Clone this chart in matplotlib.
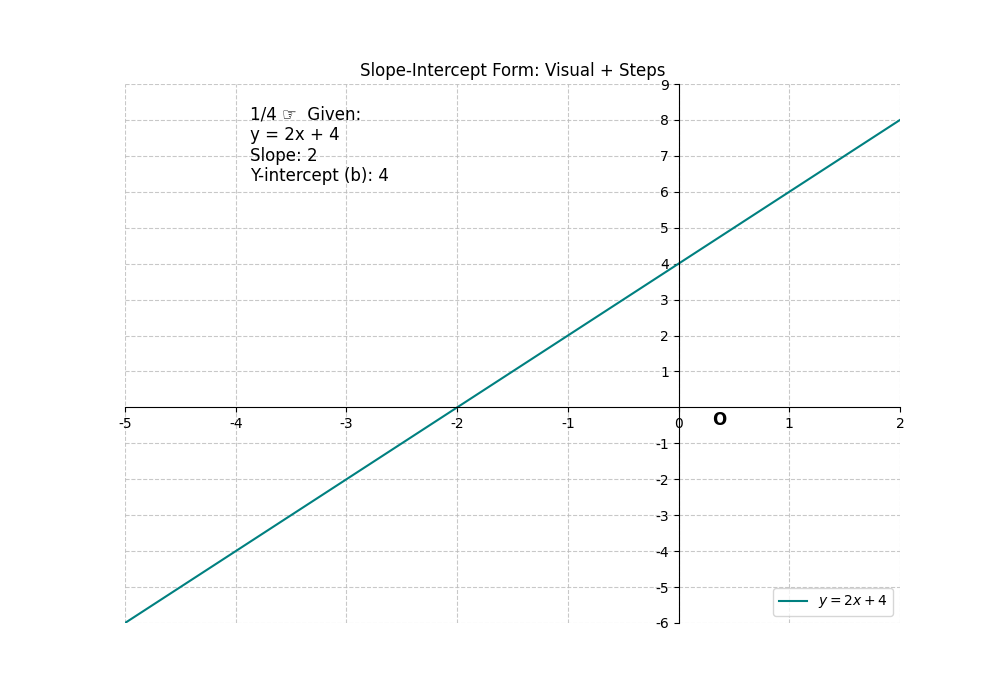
import numpy as np
import matplotlib
matplotlib.use("Agg")
from matplotlib import pyplot as plt

plt.rcParams['axes.unicode_minus'] = False

# line y = m x + b
slope = 2
intercept = 4
x_range = [-5, 2]
y_range = [-6, 9]
x_ticks = [-5, -4, -3, -2, -1, 0, 1, 2]
y_ticks = [-6, -5, -4, -3, -2, -1, 1, 2, 3, 4, 5, 6, 7, 8, 9]
info_text = "1/4 \u261e  Given:\ny = 2x + 4\nSlope: 2\nY-intercept (b): 4"

fig, ax = plt.subplots(figsize=(10, 7), dpi=100)

x = np.linspace(x_range[0], x_range[1], 200)
ax.plot(x, slope * x + intercept, color="teal", linewidth=1.5, label=r"$y = 2x + 4$")

ax.set_xlim(x_range)
ax.set_ylim(y_range)
ax.spines['left'].set_position('zero')
ax.spines['bottom'].set_position('zero')
ax.spines['right'].set_visible(False)
ax.spines['top'].set_visible(False)
ax.set_xticks(x_ticks)
ax.set_yticks(y_ticks)
ax.grid(True, linestyle="--", color="#bbbbbb", alpha=0.8)

ax.text(0.3, -0.5, "O", fontsize=12, fontweight="bold")
ax.text(0.161, 0.961, info_text, transform=ax.transAxes, fontsize=12, va="top", ha="left")

ax.set_title("Slope-Intercept Form: Visual + Steps")
ax.legend(loc="lower right")

fig.savefig("out.png", dpi=100)
